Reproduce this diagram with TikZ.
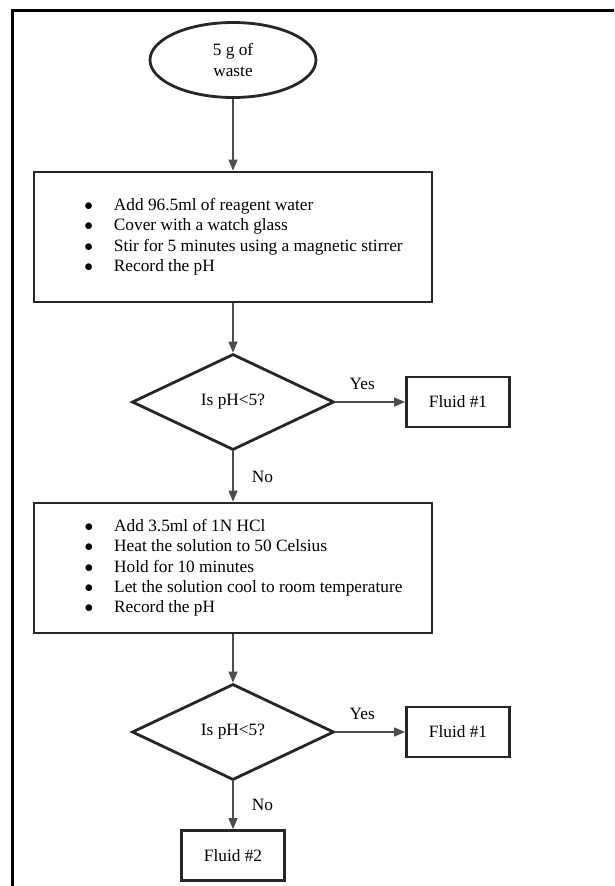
\documentclass[tikz,border=0pt]{standalone}
\usepackage{fontspec}
\setmainfont{Liberation Serif}
\usetikzlibrary{positioning,shapes.geometric,arrows.meta}

\begin{document}
\begin{tikzpicture}[x=1pt, y=1pt,
font=\fontsize{17.3}{20.3}\selectfont,
bloc/.style={rectangle, draw=black!85, line width=2.8pt, minimum width=398pt, minimum height=130pt},
debut/.style={ellipse, draw=black!85, line width=2.8pt, minimum width=166pt, minimum height=75pt, align=center, inner sep=0pt},
test/.style={diamond, draw=black!85, line width=2.8pt, minimum width=202pt, minimum height=96pt, inner sep=0pt},
sortie/.style={rectangle, draw=black!85, line width=2.8pt, minimum width=103pt, minimum height=50pt},
lien/.style={draw=black!70, line width=1.2pt, -{Triangle[length=11pt,width=9pt]}},
]
    % Longueurs et espacement
    \def\espacement{225pt}

    \clip (0,0) rectangle (614,-886);
    % Cadre
    \draw [line width=3pt] (12.5,-900) |- (630,-10.5);

    % Définition des blocs
    \node [debut] (waste) at (233,-60) {5 g of\\waste};
    \node [bloc, below of=waste, node distance=177pt] (prep) {%
      \begin{tabular}{@{\hspace{21pt}}c@{\hspace{21pt}}l@{}}
      $\bullet$ & Add 96.5ml of reagent water\\
      $\bullet$ & Cover with a watch glass\\
      $\bullet$ & Stir for 5 minutes using a magnetic stirrer\\
      $\bullet$ & Record the pH
      \end{tabular}};
    \node [test, below of=prep, node distance=165pt] (test1) {Is pH<5?};
    \node [sortie, right of=test1, node distance=\espacement] (fluid1a) {Fluid \#1};
    \node [bloc, below of=test1, node distance=166pt] (acid) {%
      \begin{tabular}{@{\hspace{21pt}}c@{\hspace{21pt}}l@{}}
      $\bullet$ & Add 3.5ml of 1N HCl\\
      $\bullet$ & Heat the solution to 50 Celsius\\
      $\bullet$ & Hold for 10 minutes\\
      $\bullet$ & Let the solution cool to room temperature\\
      $\bullet$ & Record the pH
      \end{tabular}};
    \node [test, below of=acid, node distance=164pt] (test2) {Is pH<5?};
    \node [sortie, right of=test2, node distance=\espacement] (fluid1b) {Fluid \#1};
    \node [sortie, below of=test2, node distance=123.5pt] (fluid2) {Fluid \#2};

    % Définition des liens
    \draw [lien] (waste) -- (prep);
    \draw [lien] (prep) -- (test1);
    \draw [lien] (test1) -- node[above=8pt, xshift=-8pt] {Yes} (fluid1a);
    \draw [lien] (test1) -- node[right=15pt] {No} (acid);
    \draw [lien] (acid) -- (test2);
    \draw [lien] (test2) -- node[above=8pt, xshift=-8pt] {Yes} (fluid1b);
    \draw [lien] (test2) -- node[right=15pt] {No} (fluid2);
\end{tikzpicture}
\end{document}
